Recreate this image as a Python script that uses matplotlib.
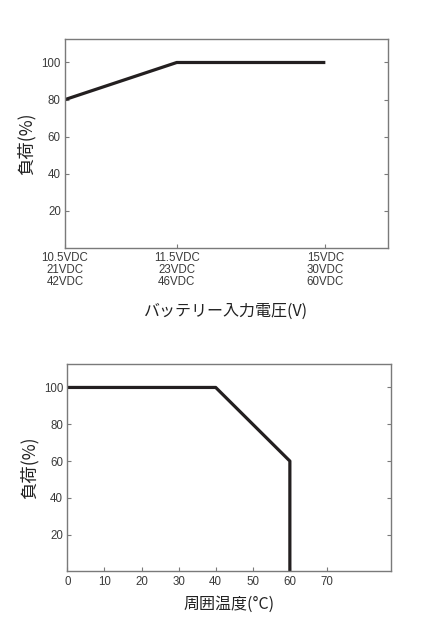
import matplotlib.pyplot as plt

plt.rcParams['font.family'] = ['Liberation Sans', 'Noto Sans CJK JP', 'DejaVu Sans']

# top chart: load vs battery input voltage
volt_pos = [0, 1, 2.33]
volt_labels = ['10.5VDC\n21VDC\n42VDC', '11.5VDC\n23VDC\n46VDC', '15VDC\n30VDC\n60VDC']
volt_load = [80, 100, 100]

# bottom chart: load vs ambient temperature
temp = [0, 40, 60, 60]
temp_load = [100, 100, 60, 0]
temp_ticks = [0, 10, 20, 30, 40, 50, 60, 70]

y_ticks = [20, 40, 60, 80, 100]

line_col = '#231f20'
spine_col = '#7a7a7a'
text_col = '#3a3a3a'
cjk = ['Noto Sans CJK JP', 'DejaVu Sans']

fig = plt.figure(figsize=(4.21, 6.31), dpi=100)


def style(ax):
    for s in ax.spines.values():
        s.set_color(spine_col)
        s.set_linewidth(1.0)
    ax.tick_params(direction='in', length=3, width=0.8, color=spine_col,
                   labelsize=8.3, labelcolor=text_col, right=True, pad=3)
    ax.set_yticks(y_ticks)


ax1 = fig.add_axes([0.1544, 0.607, 0.767, 0.331])
ax1.plot(volt_pos, volt_load, color=line_col, lw=2.3, solid_capstyle='butt')
ax1.set_xlim(0, 2.89)
ax1.set_ylim(0, 112.6)
style(ax1)
ax1.set_xticks(volt_pos)
ax1.set_xticklabels(volt_labels, linespacing=0.98, ha='center')
ax1.set_ylabel('負荷(%)', family=cjk, fontsize=12.5, color='#222222', labelpad=4)
ax1.set_xlabel('バッテリー入力電圧(V)', family=cjk, fontsize=11.5, color='#222222', labelpad=11)

ax2 = fig.add_axes([0.160, 0.0943, 0.769, 0.329])
ax2.plot(temp, temp_load, color=line_col, lw=2.3, solid_capstyle='butt')
ax2.set_xlim(0, 87.3)
ax2.set_ylim(0, 112.8)
style(ax2)
ax2.set_xticks(temp_ticks)
ax2.set_ylabel('負荷(%)', family=cjk, fontsize=12.5, color='#222222', labelpad=4)
ax2.set_xlabel('周囲温度(°C)', family=cjk, fontsize=11.5, color='#222222', labelpad=6)

fig.savefig('out.png', dpi=100)
